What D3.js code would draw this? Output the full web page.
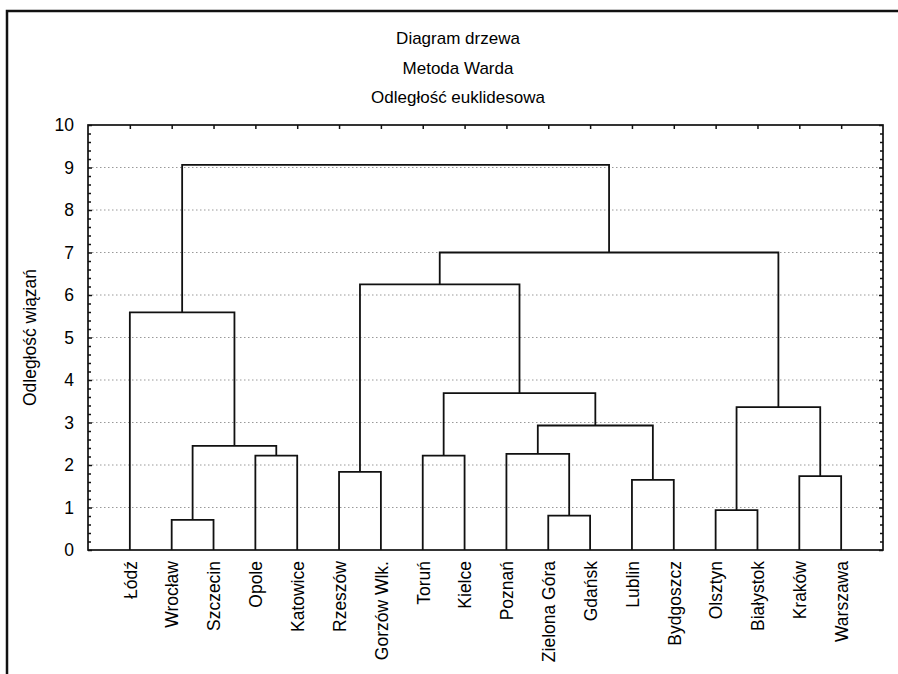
<!DOCTYPE html>
<html>
<head>
<meta charset="utf-8">
<script src="https://cdn.jsdelivr.net/npm/d3@7"></script>
<style>
  html, body { margin: 0; padding: 0; background: #fff; }
  svg { display: block; }
  text { font-family: "Liberation Sans", Arial, sans-serif; fill: #000; }
</style>
</head>
<body>
<svg id="chart" width="898" height="674"></svg>
<script>
// ---- data ----
const titleLines = ["Diagram drzewa", "Metoda Warda", "Odległość euklidesowa"];
const yAxisTitle = "Odległość wiązań";
const leaves = ["Łódź", "Wrocław", "Szczecin", "Opole", "Katowice", "Rzeszów", "Gorzów Wlk.",
  "Toruń", "Kielce", "Poznań", "Zielona Góra", "Gdańsk", "Lublin", "Bydgoszcz",
  "Olsztyn", "Białystok", "Kraków", "Warszawa"];
const yTicks = [0, 1, 2, 3, 4, 5, 6, 7, 8, 9, 10];
const gridValues = [1, 2, 3, 4, 5, 6, 7, 8, 9];
// linkage: node ids 0..17 are leaves, merge k creates node 18+k
const mergeA      = [1,    10,   14,   12,   16,   5,    3,    7,    9,    18,   26,   20,   25,   0,    23,   32,   31];
const mergeB      = [2,    11,   15,   13,   17,   6,    4,    8,    19,   24,   21,   22,   28,   27,   30,   29,   33];
const mergeHeight = [0.71, 0.81, 0.94, 1.65, 1.74, 1.84, 2.22, 2.22, 2.26, 2.45, 2.93, 3.36, 3.69, 5.59, 6.25, 7.00, 9.06];

// ---- layout ----
const svg = d3.select("#chart");
const pLeft = 88, pRight = 883, pTop = 125, pBottom = 550;

const x = d3.scalePoint().domain(leaves).range([pLeft, pRight]).padding(1);
const y = d3.scaleLinear().domain([0, 10]).range([pBottom, pTop]);

// outer window frame
svg.append("path")
  .attr("d", `M7,674 V11 H898`)
  .attr("fill", "none").attr("stroke", "#111").attr("stroke-width", 2.5);

// titles
svg.selectAll("text.title").data(titleLines).join("text")
  .attr("class", "title")
  .attr("x", 458).attr("y", (d, i) => 44 + i * 29.5)
  .attr("text-anchor", "middle")
  .style("font-size", "17px")
  .text(d => d);

// gridlines
svg.append("g").selectAll("line").data(gridValues).join("line")
  .attr("x1", pLeft).attr("x2", pRight)
  .attr("y1", d => y(d)).attr("y2", d => y(d))
  .attr("stroke", "#999").attr("stroke-width", 1)
  .attr("stroke-dasharray", "1.5,2.5");

// minor tick values
const minorTicks = d3.range(0, 50).map(i => i * 0.2).filter(v => Math.abs(v - Math.round(v)) > 1e-6);

function styleAxis(g) {
  g.select(".domain").remove();
  g.selectAll(".tick line").attr("stroke", "#111").attr("stroke-width", 1.5);
}

// left axis labels + ticks (inward)
svg.append("g").attr("transform", `translate(${pLeft},0)`)
  .call(d3.axisRight(y).tickValues(yTicks).tickSize(4).tickFormat(""))
  .call(styleAxis);
svg.append("g").attr("transform", `translate(${pLeft},0)`)
  .call(d3.axisRight(y).tickValues(minorTicks).tickSize(3).tickFormat(""))
  .call(styleAxis);
svg.append("g").attr("transform", `translate(${pLeft},0)`)
  .call(d3.axisLeft(y).tickValues(yTicks).tickSize(0).tickPadding(14).tickFormat(d3.format("d")))
  .call(g => g.select(".domain").remove())
  .call(g => g.selectAll("text").style("font-size", "17.5px").attr("fill", "#000")
      .style("font-family", "'Liberation Sans', Arial, sans-serif"));

// right axis ticks (inward)
svg.append("g").attr("transform", `translate(${pRight},0)`)
  .call(d3.axisLeft(y).tickValues(yTicks).tickSize(4).tickFormat(""))
  .call(styleAxis);
svg.append("g").attr("transform", `translate(${pRight},0)`)
  .call(d3.axisLeft(y).tickValues(minorTicks).tickSize(3).tickFormat(""))
  .call(styleAxis);

// top axis ticks (inward)
svg.append("g").attr("transform", `translate(0,${pTop})`)
  .call(d3.axisBottom(x).tickSize(4).tickFormat(""))
  .call(styleAxis);

// bottom axis labels (rotated)
svg.append("g").attr("transform", `translate(0,${pBottom})`)
  .call(d3.axisBottom(x).tickSize(0).tickPadding(0))
  .call(g => g.select(".domain").remove())
  .call(g => g.selectAll("text")
      .attr("transform", "rotate(-90)")
      .attr("x", -11).attr("y", 0).attr("dy", "0.36em")
      .attr("text-anchor", "end")
      .attr("fill", "#000")
      .style("font-size", "17.5px")
      .style("font-family", "'Liberation Sans', Arial, sans-serif"));

// y-axis title
svg.append("text")
  .attr("transform", `translate(30,${(pTop + pBottom) / 2}) rotate(-90)`)
  .attr("text-anchor", "middle").attr("dy", "0.35em")
  .style("font-size", "17.5px")
  .text(yAxisTitle);

// dendrogram
const nodeX = leaves.map(d => x(d));
const nodeH = leaves.map(() => 0);
const links = [];
mergeA.forEach((a, k) => {
  const b = mergeB[k], h = mergeHeight[k];
  links.push({ xa: nodeX[a], ha: nodeH[a], xb: nodeX[b], hb: nodeH[b], h });
  nodeX.push((nodeX[a] + nodeX[b]) / 2);
  nodeH.push(h);
});
svg.append("g").selectAll("path").data(links).join("path")
  .attr("d", d => `M${d.xa},${y(d.ha)} V${y(d.h)} H${d.xb} V${y(d.hb)}`)
  .attr("fill", "none").attr("stroke", "#111").attr("stroke-width", 1.8);

// plot frame
svg.append("rect")
  .attr("x", pLeft).attr("y", pTop).attr("width", pRight - pLeft).attr("height", pBottom - pTop)
  .attr("fill", "none").attr("stroke", "#111").attr("stroke-width", 1.7);
</script>
</body>
</html>
